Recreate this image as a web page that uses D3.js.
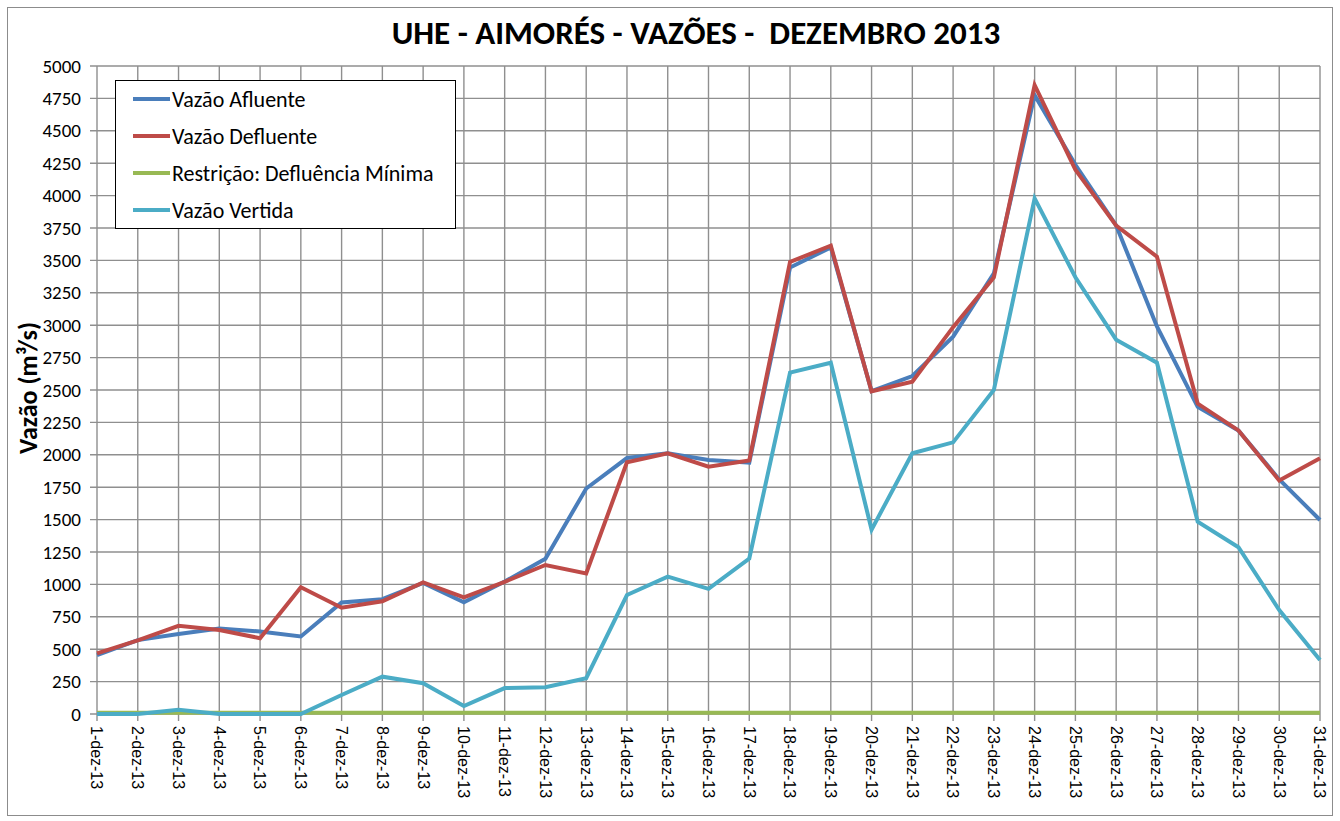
<!DOCTYPE html>
<html>
<head>
<meta charset="utf-8">
<script src="https://cdn.jsdelivr.net/npm/d3@7"></script>
<style>
  body { margin: 0; background: #fff; }
  svg { display: block; }
</style>
</head>
<body>
<svg id="chart"></svg>
<script>
// dias de dezembro 2013
const days = d3.range(1, 32).map(d => d + "-dez-13");

const afluente = [455, 570, 618, 660, 636, 598, 860, 886, 1012, 862, 1022, 1198, 1740, 1975, 2012, 1960, 1940,
  3445, 3600, 2492, 2608, 2912, 3400, 4775, 4238, 3770, 2990, 2370, 2188, 1810, 1497];
const defluente = [468, 568, 680, 648, 585, 978, 820, 870, 1015, 900, 1020, 1150, 1085, 1942, 2012, 1908, 1956,
  3488, 3614, 2490, 2564, 2985, 3370, 4853, 4200, 3768, 3529, 2395, 2188, 1802, 1973];
const minima = days.map(() => 10);
const vertida = [0, 0, 32, 0, 0, 0, 147, 288, 237, 62, 200, 207, 276, 918, 1060, 966, 1200,
  2634, 2710, 1422, 2012, 2096, 2500, 3979, 3370, 2888, 2711, 1484, 1287, 802, 417];

const yTicks = d3.range(0, 5001, 250);

const series = [
  { name: "Vazão Afluente", values: afluente, color: "#4a7ebb" },
  { name: "Vazão Defluente", values: defluente, color: "#be4b48" },
  { name: "Restrição: Defluência Mínima", values: minima, color: "#98b954" },
  { name: "Vazão Vertida", values: vertida, color: "#4bacc6" }
];

const width = 1340, height = 821;
const plotLeft = 97, plotRight = 1320, plotTop = 66, plotBottom = 714;
const gridColor = "#8f8f8f";
const font = "Carlito, Lato, sans-serif";

const svg = d3.select("#chart")
    .attr("width", width)
    .attr("height", height);

svg.append("rect")
    .attr("x", 7.5).attr("y", 7.5)
    .attr("width", 1325).attr("height", 808)
    .attr("fill", "#fff")
    .attr("stroke", "#8c8c8c");

const x = d3.scalePoint()
    .domain(days)
    .range([plotLeft, plotRight]);

const y = d3.scaleLinear()
    .domain([0, 5000])
    .range([plotBottom, plotTop]);

// grade
svg.append("g")
  .selectAll("line")
  .data(yTicks)
  .enter().append("line")
    .attr("x1", plotLeft - 7).attr("x2", plotRight)
    .attr("y1", d => y(d)).attr("y2", d => y(d))
    .attr("stroke", gridColor)
    .attr("stroke-width", 1.4);

svg.append("g")
  .selectAll("line")
  .data(days)
  .enter().append("line")
    .attr("x1", d => x(d)).attr("x2", d => x(d))
    .attr("y1", plotTop).attr("y2", plotBottom + 7)
    .attr("stroke", gridColor)
    .attr("stroke-width", 1.4);

// eixo y
svg.append("g")
  .selectAll("text")
  .data(yTicks)
  .enter().append("text")
    .attr("x", plotLeft - 16)
    .attr("y", d => y(d))
    .attr("dy", "0.35em")
    .attr("text-anchor", "end")
    .attr("font-family", font)
    .attr("font-size", 19)
    .text(d => d);

// eixo x
svg.append("g")
  .selectAll("text")
  .data(days)
  .enter().append("text")
    .attr("transform", d => `translate(${x(d)},${plotBottom + 12}) rotate(90)`)
    .attr("dy", "0.35em")
    .attr("font-family", "Liberation Sans, Arial, sans-serif")
    .attr("font-size", 16)
    .text(d => d);

// linhas
const line = d3.line()
    .x((d, i) => x(days[i]))
    .y(d => y(d));

svg.append("g")
  .selectAll("path")
  .data(series)
  .enter().append("path")
    .attr("d", d => line(d.values))
    .attr("fill", "none")
    .attr("stroke", d => d.color)
    .attr("stroke-width", 4)
    .attr("stroke-linejoin", "miter");

// títulos
svg.append("text")
    .attr("x", 696)
    .attr("y", 44)
    .attr("text-anchor", "middle")
    .attr("font-family", font)
    .attr("font-weight", "bold")
    .attr("font-size", 33)
    .attr("xml:space", "preserve")
    .text("UHE - AIMORÉS - VAZÕES -  DEZEMBRO 2013");

svg.append("text")
    .attr("transform", `translate(37,388) rotate(-90)`)
    .attr("text-anchor", "middle")
    .attr("font-family", font)
    .attr("font-weight", "bold")
    .attr("font-size", 26)
    .text("Vazão (m³/s)");

// legenda
const legend = svg.append("g");
legend.append("rect")
    .attr("x", 115.5).attr("y", 80.5)
    .attr("width", 340).attr("height", 148)
    .attr("fill", "#fff")
    .attr("stroke", "#000");

const rows = legend.selectAll(".row")
    .data(series)
  .enter().append("g")
    .attr("class", "row")
    .attr("transform", (d, i) => `translate(0,${99 + i * 37})`);

rows.append("line")
    .attr("x1", 133).attr("x2", 170)
    .attr("stroke", d => d.color)
    .attr("stroke-width", 4);

rows.append("text")
    .attr("x", 172)
    .attr("dy", "0.35em")
    .attr("font-family", font)
    .attr("font-size", 22)
    .text(d => d.name);
</script>
</body>
</html>
